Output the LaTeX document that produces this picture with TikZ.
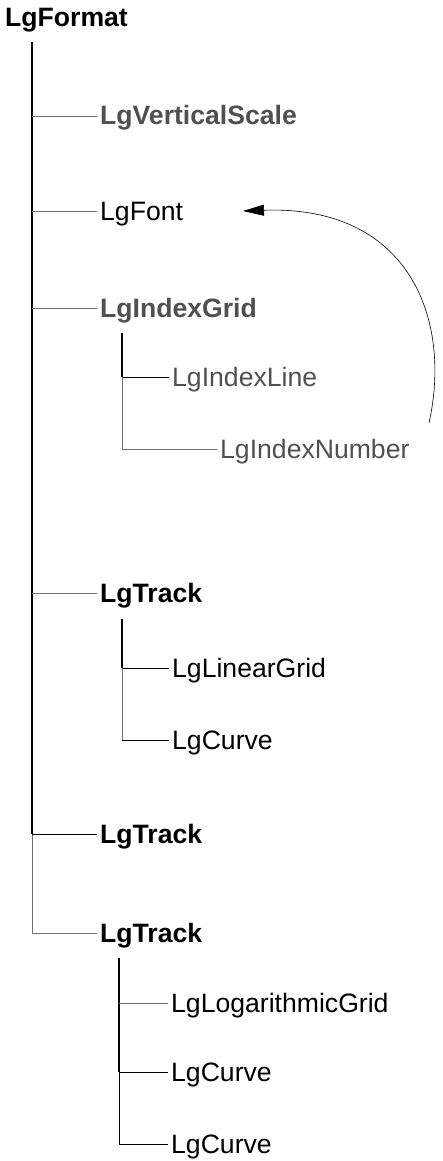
\documentclass[tikz,border=0pt]{standalone}
\usepackage{fontspec}
\setmainfont{Liberation Sans}
\usetikzlibrary{arrows.meta}
\definecolor{lblgray}{HTML}{505050}
\definecolor{lngray}{HTML}{707070}
\tikzset{
  lbl/.style={inner xsep=3pt, inner ysep=0pt, anchor=west, text height=19pt, text depth=1pt, font=\fontsize{26.6}{30}\selectfont},
  boldlbl/.style={lbl, font=\fontsize{26.6}{30}\selectfont\bfseries},
  graylbl/.style={text=lblgray},
  trunk/.style={line width=1.6pt, black},
  thingray/.style={line width=0.8pt, lngray},
  thinblack/.style={line width=0.8pt, black},
  arc/.style={line width=0.6pt, black, -{Triangle[length=21pt,width=11pt]}}
}
\begin{document}
\begin{tikzpicture}[x=1pt,y=-1pt]
\useasboundingbox (0,0) rectangle (442,1161);
% root
\node[anchor=base west, inner sep=0pt, font=\fontsize{26.6}{30}\selectfont\bfseries] (root) at (5,27) {LgFormat};
% main trunk coordinates
\coordinate (m0) at (32,42);
\coordinate (m1) at (32,116);
\coordinate (m2) at (32,211);
\coordinate (m3) at (32,308);
\coordinate (m4) at (32,593);
\coordinate (m5) at (32,834);
\coordinate (m6) at (32,933);
% first-level nodes
\node[boldlbl, graylbl] (vs) at (97,116) {LgVerticalScale};
\node[lbl] (font) at (97,211) {LgFont};
\node[boldlbl, graylbl] (ig) at (97,308) {LgIndexGrid};
\node[boldlbl] (tr1) at (97,593) {LgTrack};
\node[boldlbl] (tr2) at (97,834) {LgTrack};
\node[boldlbl] (tr3) at (97,933) {LgTrack};
% main trunk
\draw[trunk] (m0) -- (m5);
\draw[thingray] (m5) -- (m6) -- (tr3.west);
\draw[thingray] (m1) -- (vs.west);
\draw[thingray] (m2) -- (font.west);
\draw[thingray] (m3) -- (ig.west);
\draw[thingray] (m4) -- (tr1.west);
\draw[thinblack] (m5) -- (tr2.west);
% IndexGrid subtree
\coordinate (a0) at (122,333);
\coordinate (a1) at (122,377);
\coordinate (a2) at (122,449);
\node[lbl, graylbl] (il) at (169,377) {LgIndexLine};
\node[lbl, graylbl] (in) at (217,449) {LgIndexNumber};
\draw[trunk] (a0) -- (a1);
\draw[thinblack] (a1) -- (il.west);
\draw[thingray] (a1) -- (a2) -- (in.west);
% Track 1 subtree
\coordinate (b0) at (122,619);
\coordinate (b1) at (122,668);
\coordinate (b2) at (122,740);
\node[lbl] (lg) at (169,668) {LgLinearGrid};
\node[lbl] (cv1) at (169,740) {LgCurve};
\draw[trunk] (b0) -- (b1);
\draw[thinblack] (b1) -- (lg.west);
\draw[thingray] (b1) -- (b2);
\draw[thinblack] (b2) -- (cv1.west);
% Track 3 subtree
\coordinate (c0) at (119,958);
\coordinate (c1) at (119,1003);
\coordinate (c2) at (119,1072);
\coordinate (c3) at (119,1144);
\node[lbl] (log) at (168,1003) {LgLogarithmicGrid};
\node[lbl] (cv2) at (168,1072) {LgCurve};
\node[lbl] (cv3) at (168,1144) {LgCurve};
\draw[trunk] (c0) -- (c2);
\draw[thingray] (c1) -- (log.west);
\draw[thinblack] (c2) -- (cv2.west);
\draw[thinblack] (c2) -- (c3) -- (cv3.west);
% curved arrow
\coordinate (arcstart) at (429,423);
\coordinate (ftip) at (243,211);
\draw[arc] (arcstart) .. controls (452,320) and (410,205) .. (ftip);
\end{tikzpicture}
\end{document}
